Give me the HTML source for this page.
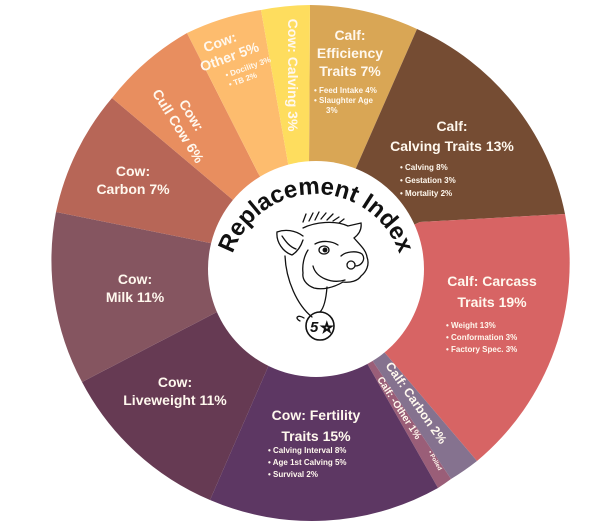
<!DOCTYPE html>
<html><head><meta charset="utf-8"><style>
html,body{margin:0;padding:0;background:#fff;width:612px;height:526px;overflow:hidden}
svg{display:block}
text{font-family:"Liberation Sans",sans-serif;font-weight:bold;fill:#fff8ee}
.l{font-size:14px;text-anchor:middle}
.b{font-size:8px}
</style></head><body>
<svg width="612" height="526" viewBox="0 0 612 526" xmlns="http://www.w3.org/2000/svg">
<g stroke="none">
<path d="M309,163 L310,5 A258,258 0 0 1 417,29 L356,168 L316,269 Z" fill="#D9A655"/>
<path d="M356,168 L417,29 A258,258 0 0 1 565,214 L420,222 L316,269 Z" fill="#754C33"/>
<path d="M420,222 L565,214 A258,258 0 0 1 477,461 L385,353 L316,269 Z" fill="#D76464"/>
<path d="M385,353 L477,461 A258,258 0 0 1 451,479 L374,363 L316,269 Z" fill="#85728F"/>
<path d="M374,363 L451,479 A258,258 0 0 1 438,488 L368,365 L316,269 Z" fill="#9A5E78"/>
<path d="M368,365 L438,488 A258,258 0 0 1 210,500 L268,367 L316,269 Z" fill="#5D3763"/>
<path d="M268,367 L210,500 A258,258 0 0 1 82,382 L217,312 L316,269 Z" fill="#663A53"/>
<path d="M217,312 L82,382 A258,258 0 0 1 56,212 L210,243 L316,269 Z" fill="#855560"/>
<path d="M210,243 L56,212 A258,258 0 0 1 112,98 L233,200 L316,269 Z" fill="#B76657"/>
<path d="M233,200 L112,98 A258,258 0 0 1 187,33 L258,173 L316,269 Z" fill="#E88E5F"/>
<path d="M258,173 L187,33 A258,258 0 0 1 261,10 L288,163 L316,269 Z" fill="#FDBC6E"/>
<path d="M288,163 L261,10 A258,258 0 0 1 310,5 L309,163 L316,269 Z" fill="#FEDD5E"/>
</g>
<circle cx="316" cy="269" r="108" fill="#fff"/>

<text class="l" transform="translate(293,75) rotate(90)" y="5">Cow: Calving 3%</text>
<g transform="translate(227,50) rotate(-20)">
<text class="l" x="-4" y="-5">Cow:</text>
<text class="l" x="0" y="12">Other 5%</text>
<text class="b" x="-10" y="26">•  Docility 3%</text>
<text class="b" x="-10" y="36">•  TB 2%</text>
</g>
<g transform="translate(184,120) rotate(58)">
<text class="l" x="0" y="-4">Cow:</text>
<text class="l" x="2" y="13">Cull Cow 6%</text>
</g>
<text class="l" x="350" y="40">Calf:</text>
<text class="l" x="350" y="58">Efficiency</text>
<text class="l" x="350" y="76">Traits 7%</text>
<text class="b" x="314" y="93">•  Feed Intake 4%</text>
<text class="b" x="314" y="103">•  Slaughter Age</text>
<text class="b" x="326" y="113">3%</text>

<text class="l" x="452" y="131">Calf:</text>
<text class="l" x="452" y="151">Calving Traits 13%</text>
<text class="b" x="400" y="170">•  Calving 8%</text>
<text class="b" x="400" y="183">•  Gestation 3%</text>
<text class="b" x="400" y="196">•  Mortality 2%</text>

<text class="l" x="492" y="286">Calf: Carcass</text>
<text class="l" x="492" y="307">Traits 19%</text>
<text class="b" x="446" y="328">•  Weight 13%</text>
<text class="b" x="446" y="340">•  Conformation 3%</text>
<text class="b" x="446" y="352">•  Factory Spec. 3%</text>

<text class="l" style="font-size:12.5px" transform="translate(416,403) rotate(55)" y="4">Calf: Carbon 2%</text>
<text style="font-size:10px;text-anchor:middle" transform="translate(399,408) rotate(57)" y="3">Calf: -Other 1%</text>
<text style="font-size:6px" transform="translate(428,452) rotate(60)">•  Polled</text>

<text class="l" x="316" y="420">Cow: Fertility</text>
<text class="l" x="316" y="441">Traits 15%</text>
<text class="b" x="268" y="453">•  Calving Interval 8%</text>
<text class="b" x="268" y="465">•  Age 1st Calving 5%</text>
<text class="b" x="268" y="477">•  Survival 2%</text>

<text class="l" x="175" y="387">Cow:</text>
<text class="l" x="175" y="405">Liveweight 11%</text>
<text class="l" x="135" y="284">Cow:</text>
<text class="l" x="135" y="302">Milk 11%</text>
<text class="l" x="133" y="176">Cow:</text>
<text class="l" x="133" y="194">Carbon 7%</text>

<defs><path id="arc" d="M228,282 A88,88 0 0 1 404,282"/></defs>
<text style="font-size:24px;fill:#111;text-anchor:middle"><textPath href="#arc" startOffset="50%">Replacement Index</textPath></text>

<g fill="none" stroke="#111" stroke-width="1.3" stroke-linecap="round">
<path d="M303,236 C295,230 285,229 277,232 C276,242 283,252 292,255 C297,252 301,246 303,240"/>
<path d="M282,236 C286,242 290,247 296,249"/>
<path d="M303,228 C315,222 335,220 348,226 L361,223 C362,230 358,235 354,238 C360,245 366,250 367,257 C370,265 366,272 361,276 C358,281 350,283 343,282 C333,288 322,290 314,288 C306,285 302,279 303,273 C302,265 304,256 308,250"/>
<path d="M303,222 L306,214 M309,221 L313,213 M315,220 L319,212 M321,219 L326,213 M327,220 L333,214 M333,221 L339,217 M339,223 L344,219"/>
<ellipse cx="324" cy="250" rx="5" ry="4"/>
<circle cx="325" cy="250" r="1.8" fill="#111"/>
<path d="M315,244 C322,240 332,241 338,245"/>
<path d="M341,256 C345,252 356,250 362,254 C366,259 362,266 355,266"/>
<circle cx="351" cy="265" r="4"/>
<path d="M313,266 C316,278 332,284 345,280"/>
<path d="M285,256 C286,280 297,305 312,317"/>
<path d="M327,287 C326,300 324,308 320,312"/>
<circle cx="320" cy="326" r="14" stroke-width="1.6"/>
<path d="M304,318 C298,314 294,318 300,321"/>
</g>
<text x="310" y="332" style="font-size:15px;fill:#111;font-style:italic">5</text>
<text x="321" y="332" style="font-size:13px;fill:#fff;stroke:#111;stroke-width:1">☆</text>
</svg>
</body></html>
